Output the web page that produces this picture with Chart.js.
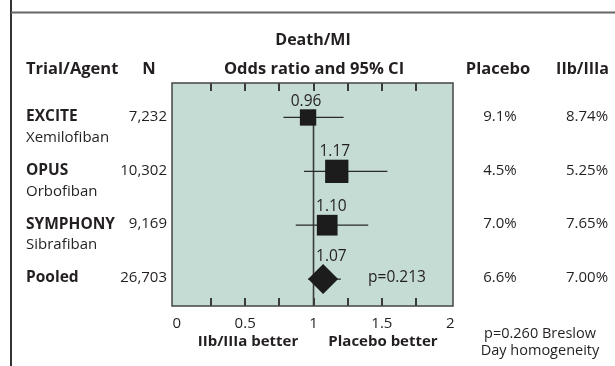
<!DOCTYPE html>
<html>
<head>
<meta charset="utf-8">
<script src="https://cdn.jsdelivr.net/npm/chart.js@4.4.1/dist/chart.umd.min.js"></script>
<style>
  html, body { margin: 0; padding: 0; background: #fff; }
  #wrap { position: relative; width: 615px; height: 366px; }
</style>
</head>
<body>
<div id="wrap"><canvas id="forest"></canvas></div>
<script>
const trials = ["EXCITE", "OPUS", "SYMPHONY", "Pooled"];
const agents = ["Xemilofiban", "Orbofiban", "Sibrafiban", ""];
const patients = [7232, 10302, 9169, 26703];
const oddsRatios = [0.96, 1.17, 1.10, 1.07];
const ciLow = [0.78, 0.93, 0.87, 0.96];
const ciHigh = [1.22, 1.54, 1.40, 1.20];
const placeboRates = [9.1, 4.5, 7.0, 6.6];
const treatedRates = [8.74, 5.25, 7.65, 7.00];
const xTickLabels = [0, 0.5, 1, 1.5, 2];
const xTickMarks = [0.25, 0.5, 0.75, 1, 1.25, 1.5, 1.75];

const FONT = "'Open Sans', sans-serif";
const INK = "#231f20";

// square side grows with trial size, last row is the pooled diamond
const pointStyles = trials.map((t, i) => i === trials.length - 1 ? "rectRot" : "rect");
const pointRadii = patients.map((n, i) => i === trials.length - 1 ? 15 : (n * 0.00226) / Math.SQRT2);

const forestPlugin = {
  id: "forest",
  beforeDatasetsDraw(chart) {
    const { ctx, chartArea: a, scales: { x, y } } = chart;
    ctx.save();
    ctx.fillStyle = "#c4dcd4";
    ctx.fillRect(a.left, a.top, a.right - a.left, a.bottom - a.top);

    // tick marks inside the box
    ctx.strokeStyle = "#3a3a3a";
    ctx.lineWidth = 2;
    xTickMarks.forEach(v => {
      const px = Math.round(x.getPixelForValue(v));
      ctx.beginPath();
      ctx.moveTo(px, a.top); ctx.lineTo(px, a.top + 8);
      ctx.moveTo(px, a.bottom); ctx.lineTo(px, a.bottom - 8);
      ctx.stroke();
    });

    // line of no effect, starts just under the first label
    ctx.lineWidth = 1.6;
    ctx.beginPath();
    ctx.moveTo(x.getPixelForValue(1), y.getPixelForValue(1) - 8);
    ctx.lineTo(x.getPixelForValue(1), a.bottom);
    ctx.stroke();

    // confidence intervals
    ctx.strokeStyle = "#2a2a2a";
    ctx.lineWidth = 1.3;
    oddsRatios.forEach((v, i) => {
      const py = y.getPixelForValue(i + 1);
      ctx.beginPath();
      ctx.moveTo(x.getPixelForValue(ciLow[i]), py);
      ctx.lineTo(x.getPixelForValue(ciHigh[i]), py);
      ctx.stroke();
    });
    ctx.restore();
  },
  afterDraw(chart) {
    const { ctx, chartArea: a, scales: { x, y } } = chart;
    ctx.save();
    ctx.strokeStyle = "#444";
    ctx.lineWidth = 1.5;
    ctx.strokeRect(a.left, a.top, a.right - a.left, a.bottom - a.top);

    // page frame
    ctx.strokeStyle = "#333";
    ctx.lineWidth = 2;
    ctx.beginPath();
    ctx.moveTo(11, 0); ctx.lineTo(11, 366);
    ctx.stroke();
    ctx.strokeStyle = "#666";
    ctx.beginPath();
    ctx.moveTo(11, 12.5); ctx.lineTo(615, 12.5);
    ctx.stroke();

    ctx.fillStyle = INK;
    ctx.textBaseline = "middle";
    const text = (s, px, py, align, weight, size) => {
      ctx.font = `${weight} ${size}px ${FONT}`;
      ctx.textAlign = align;
      ctx.fillText(s, px, py);
    };

    // headers
    text("Death/MI", 313, 40, "center", "bold", 16);
    text("Trial/Agent", 26, 69, "left", "bold", 16.5);
    text("N", 149, 69, "center", "bold", 16.5);
    text("Odds ratio and 95% CI", 314, 69, "center", "bold", 16.5);
    text("Placebo", 498, 69, "center", "bold", 16.5);
    text("IIb/IIIa", 609, 69, "right", "bold", 16);

    const lineX = x.getPixelForValue(1);
    trials.forEach((t, i) => {
      const py = y.getPixelForValue(i + 1);
      text(t, 26, py - 1, "left", "bold", 15.5);
      if (agents[i]) text(agents[i], 26, py + 20, "left", "normal", 15);
      text(patients[i].toLocaleString("en-US"), 167, py - 1, "right", "normal", 15);
      text(placeboRates[i].toFixed(1) + "%", 500, py - 1, "center", "normal", 15);
      text(treatedRates[i].toFixed(2) + "%", 587, py - 1, "center", "normal", 15);

      // value label above the marker, kept clear of the line at 1
      const label = oddsRatios[i].toFixed(2);
      const half = i === trials.length - 1 ? pointRadii[i] - 1 : pointRadii[i] * Math.SQRT1_2;
      const ly = py - half * 1.1 - 7;
      const px = x.getPixelForValue(oddsRatios[i]);
      ctx.font = `normal 15.5px ${FONT}`;
      const w = ctx.measureText(label).width;
      if (oddsRatios[i] > 1 && px - w / 2 < lineX + 2) {
        text(label, lineX + 2.5, ly, "left", "normal", 15.5);
      } else {
        text(label, px - 2, ly, "center", "normal", 15.5);
      }
    });

    text("p=0.213", 397, y.getPixelForValue(4) - 1, "center", "normal", 15.5);
    text("IIb/IIIa better", 248, 342, "center", "bold", 15);
    text("Placebo better", 383, 342, "center", "bold", 15);
    text("p=0.260 Breslow", 540, 334, "center", "normal", 14.5);
    text("Day homogeneity", 540, 351, "center", "normal", 14.5);
    ctx.restore();
  }
};

new Chart(document.getElementById("forest"), {
  type: "scatter",
  data: {
    datasets: [{
      data: oddsRatios.map((v, i) => ({ x: v, y: i + 1 })),
      pointStyle: pointStyles,
      pointRadius: pointRadii,
      pointHoverRadius: pointRadii,
      backgroundColor: "#1c1c1c",
      borderColor: "#1c1c1c",
      borderWidth: 0
    }]
  },
  options: {
    responsive: true,
    maintainAspectRatio: false,
    animation: false,
    events: [],
    layout: { padding: { left: 172, right: 162, top: 83, bottom: 24 } },
    plugins: { legend: { display: false }, tooltip: { enabled: false } },
    scales: {
      x: {
        type: "linear",
        min: -0.035,
        max: 2.02,
        afterBuildTicks: s => { s.ticks = xTickLabels.map(v => ({ value: v })); },
        grid: { display: false, drawTicks: false },
        border: { display: false },
        ticks: { padding: 9, color: INK, font: { family: FONT, size: 15 }, callback: v => String(v) }
      },
      y: {
        type: "linear",
        display: false,
        reverse: true,
        min: 0.36,
        max: 4.5
      }
    }
  },
  plugins: [forestPlugin]
});
</script>
</body>
</html>
